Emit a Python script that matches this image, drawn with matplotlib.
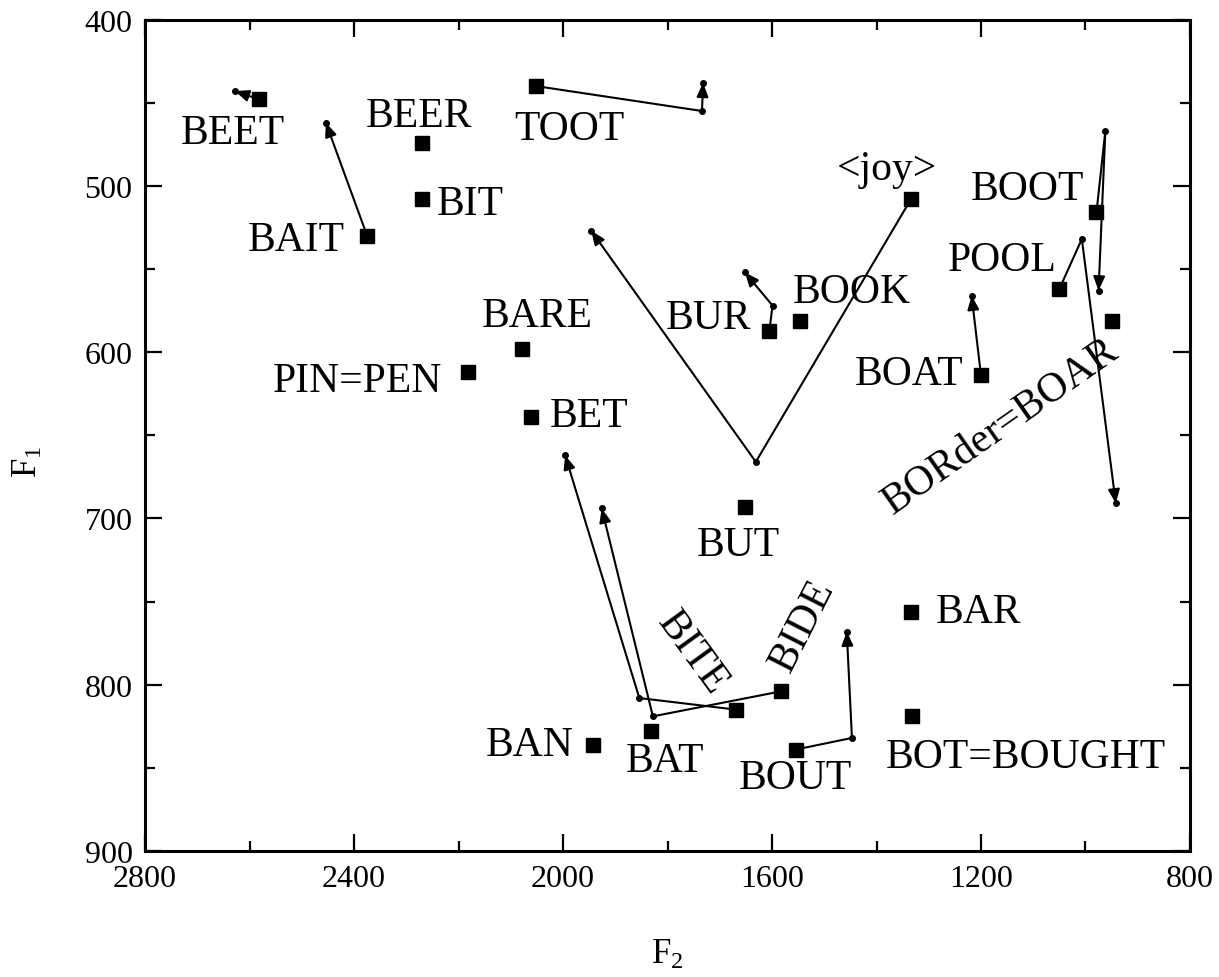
import matplotlib
matplotlib.use("Agg")
import matplotlib.pyplot as plt
from matplotlib.ticker import MultipleLocator

plt.rcParams["font.family"] = ["Liberation Serif", "DejaVu Serif"]
plt.rcParams["mathtext.fontset"] = "custom"
plt.rcParams["mathtext.rm"] = "Liberation Serif"

# Vowel nuclei (Hz)
words = ["BEET", "BEER", "BIT", "BAIT", "TOOT", "JOY", "BUR", "BOOK", "BUT",
         "BARE", "PIN", "BET", "BOOT", "POOL", "BOAR", "BOAT", "BAN", "BAT",
         "BITE", "BIDE", "BOUT", "BAR", "BOT"]
f2 = [2582, 2270, 2270, 2375, 2052, 1334, 1605, 1546, 1651,
      2078, 2181, 2062, 979, 1050, 950, 1200, 1943, 1832,
      1668, 1583, 1555, 1334, 1332]
f1 = [448, 474, 508, 530, 440, 508, 587, 581, 693,
      598, 612, 639, 516, 562, 581, 614, 836, 828,
      815, 804, 839, 756, 819]

# Glide trajectories following each nucleus (Hz)
glide_f2 = {
    "BEET": [2628],
    "BAIT": [2454],
    "TOOT": [1734, 1732],
    "JOY": [1631, 1946],
    "BUR": [1599, 1652],
    "BOOT": [962, 975],
    "POOL": [1007, 942],
    "BOAT": [1218],
    "BITE": [1854, 1996],
    "BIDE": [1828, 1926],
    "BOUT": [1447, 1457],
}
glide_f1 = {
    "BEET": [443],
    "BAIT": [462],
    "TOOT": [455, 438],
    "JOY": [666, 527],
    "BUR": [572, 552],
    "BOOT": [467, 563],
    "POOL": [532, 691],
    "BOAT": [566],
    "BITE": [808, 662],
    "BIDE": [819, 694],
    "BOUT": [832, 768],
}

label_text = {
    "BEET": "BEET", "BEER": "BEER", "BIT": "BIT", "BAIT": "BAIT", "TOOT": "TOOT",
    "JOY": "<joy>", "BUR": "BUR", "BOOK": "BOOK", "BUT": "BUT", "BARE": "BARE",
    "PIN": "PIN=PEN", "BET": "BET", "BOOT": "BOOT", "POOL": "POOL",
    "BOAR": "BORder=BOAR", "BOAT": "BOAT", "BAN": "BAN", "BAT": "BAT",
    "BITE": "BITE", "BIDE": "BIDE", "BOUT": "BOUT", "BAR": "BAR",
    "BOT": "BOT=BOUGHT",
}

# Label placement: offset from the nucleus (points), alignment, rotation
label_layout = {
    "BEET": ((-19, -24), "center", 0),
    "BEER": ((-2, 19), "center", 0),
    "BIT": ((11, -3), "left", 0),
    "BAIT": ((-16, -3), "right", 0),
    "TOOT": ((24, -31), "center", 0),
    "JOY": ((-17, 22), "center", 0),
    "BUR": ((-44, 9), "center", 0),
    "BOOK": ((37, 21), "center", 0),
    "BUT": ((-5, -27), "center", 0),
    "BARE": ((11, 24), "center", 0),
    "PIN": ((-19, -6), "right", 0),
    "BET": ((14, 1), "left", 0),
    "BOOT": ((-50, 17), "center", 0),
    "POOL": ((-41, 21), "center", 0),
    "BOAR": ((-80, -76), "center", 35),
    "BOAT": ((-13, 1), "right", 0),
    "BAN": ((-14, 0), "right", 0),
    "BAT": ((10, -21), "center", 0),
    "BITE": ((-32, 41), "center", -54),
    "BIDE": ((16, 48), "center", 63),
    "BOUT": ((0, -20), "center", 0),
    "BAR": ((18, 0), "left", 0),
    "BOT": ((82, -29), "center", 0),
}

fig = plt.figure(figsize=(12.19, 9.78), dpi=100)
ax = fig.add_axes([0.119, 0.1288, 0.8572, 0.8502])

ax.set_xlim(2800, 800)
ax.set_ylim(900, 400)

lw = 1.5
for w in glide_f2:
    i = words.index(w)
    gx, gy = glide_f2[w], glide_f1[w]
    xs = [f2[i]] + gx
    ys = [f1[i]] + gy
    if len(xs) > 2:
        ax.plot(xs[:-1], ys[:-1], color="black", lw=lw, zorder=2)
    ax.annotate("", xy=(xs[-1], ys[-1]), xytext=(xs[-2], ys[-2]),
                arrowprops=dict(arrowstyle="-|>,head_length=0.6,head_width=0.25",
                                mutation_scale=14, color="black", lw=lw,
                                shrinkA=0, shrinkB=0),
                zorder=2)
    ax.plot(gx, gy, "o", color="black", ms=4, zorder=3)

ax.plot(f2, f1, "s", color="black", ms=10.5, zorder=4, linestyle="none")

for i, w in enumerate(words):
    (dx, dy), ha, rot = label_layout[w]
    ax.annotate(label_text[w], xy=(f2[i], f1[i]), xytext=(dx, dy),
                textcoords="offset points", ha=ha, va="center",
                rotation=rot, rotation_mode="anchor", fontsize=30, zorder=5)

ax.xaxis.set_major_locator(MultipleLocator(400))
ax.xaxis.set_minor_locator(MultipleLocator(200))
ax.yaxis.set_major_locator(MultipleLocator(100))
ax.yaxis.set_minor_locator(MultipleLocator(50))
ax.tick_params(which="both", direction="in", top=True, right=True,
               width=1.6, labelsize=23)
ax.tick_params(which="major", length=12, pad=9)
ax.tick_params(which="minor", length=7)
for s in ax.spines.values():
    s.set_linewidth(2.2)

ax.set_xlabel(r"$\mathregular{F_2}$", fontsize=25, va="center")
ax.xaxis.set_label_coords(0.5, -0.124)
ax.set_ylabel(r"$\mathregular{F_1}$", fontsize=25, va="center")
ax.yaxis.set_label_coords(-0.112, 0.469)

fig.savefig("out.png", dpi=100)
